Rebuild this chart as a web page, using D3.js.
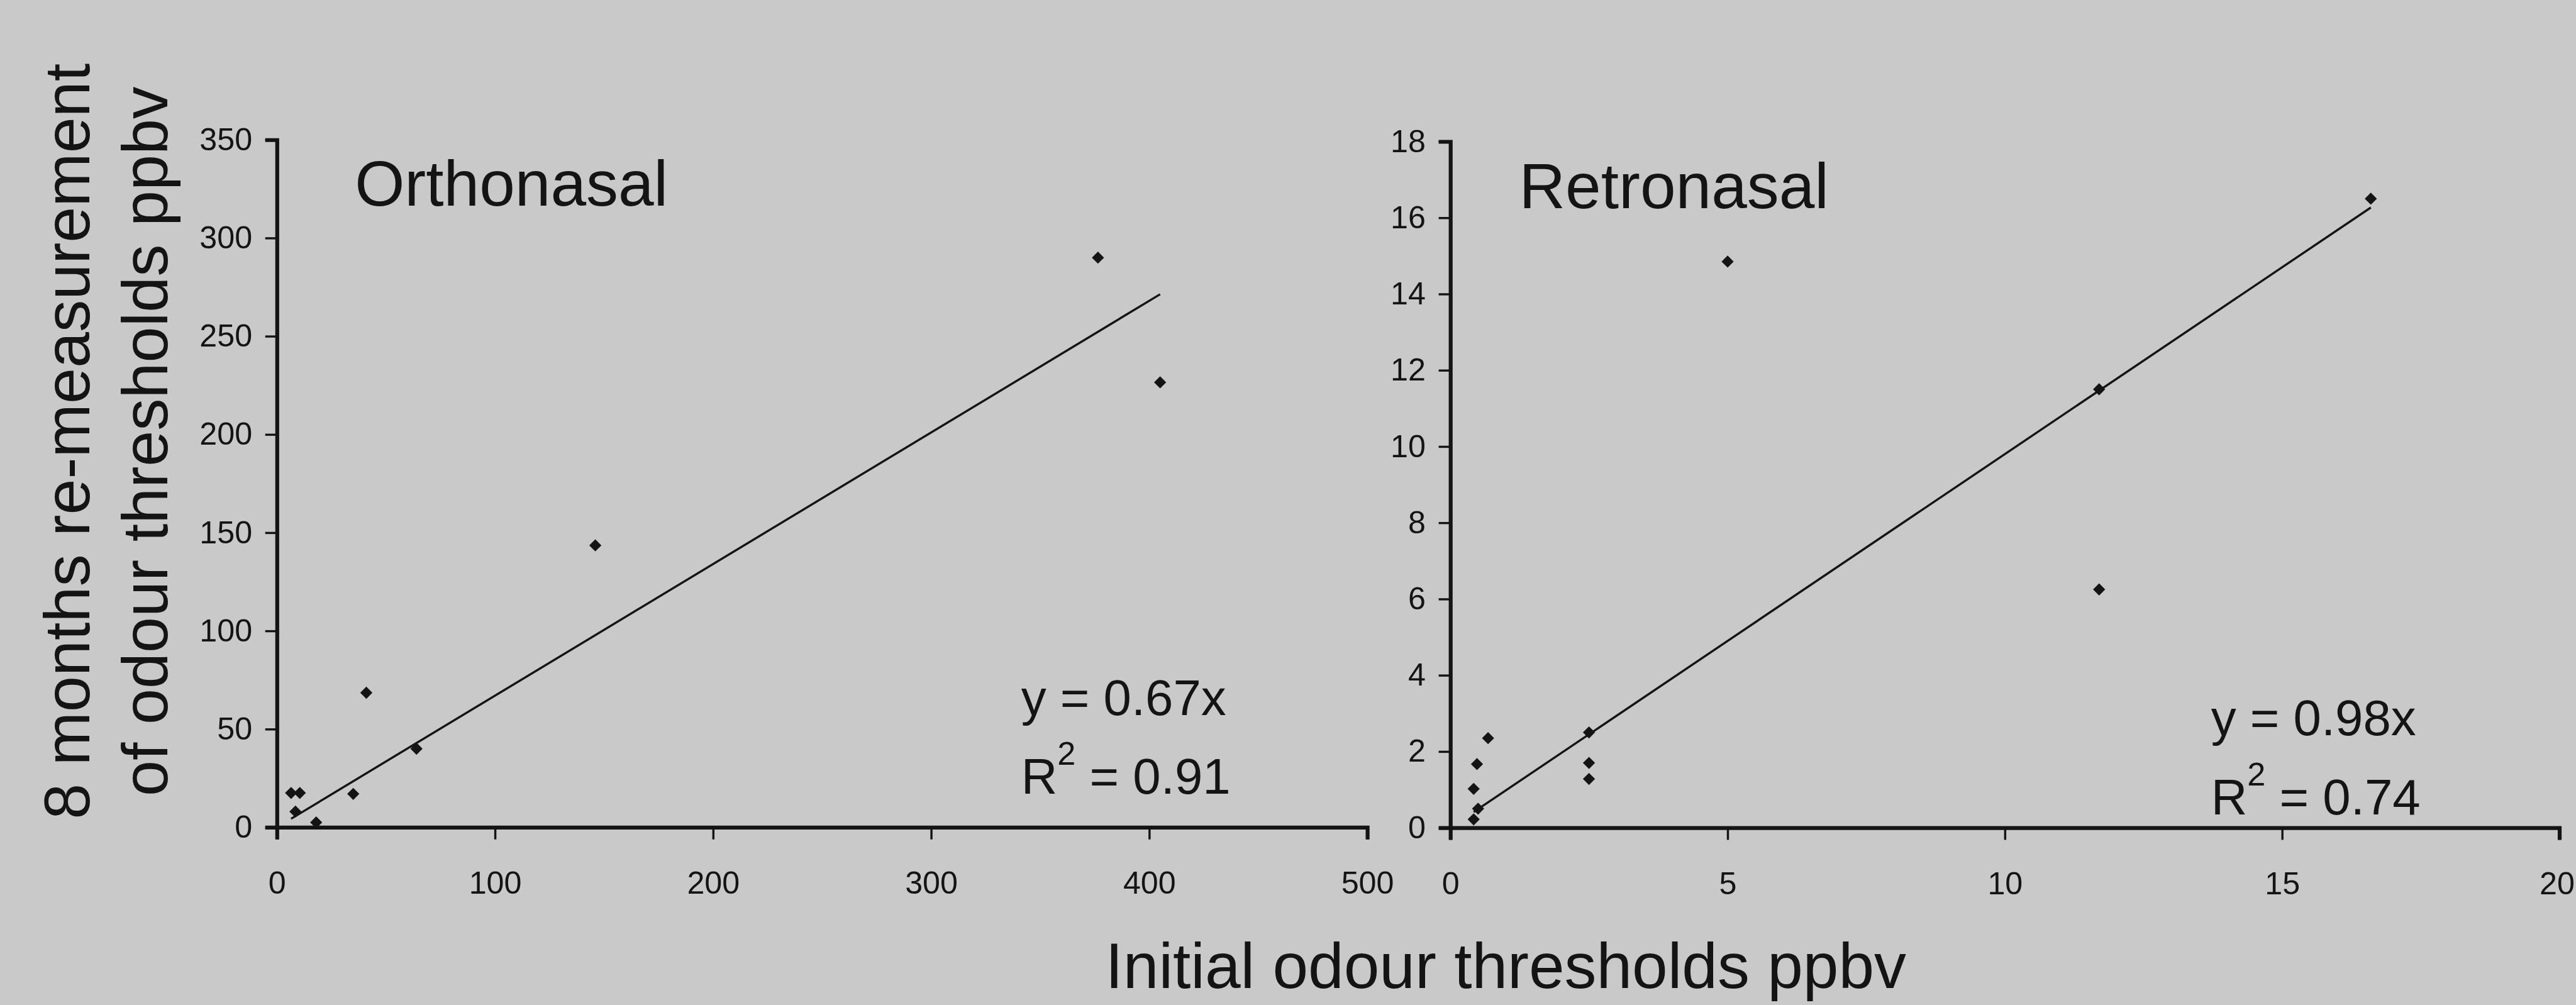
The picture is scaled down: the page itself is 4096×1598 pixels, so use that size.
<!DOCTYPE html>
<html>
<head>
<meta charset="utf-8">
<script src="https://cdn.jsdelivr.net/npm/d3@7"></script>
<style>
  html, body { margin: 0; padding: 0; background: #c9c9c9; overflow: hidden; }
  svg { display: block; }
</style>
</head>
<body>
<svg id="chart"></svg>
<script>

// values
var orthoX = [376.5, 405, 146, 41, 64, 35, 6.5, 10.5, 8.5, 18];
var orthoY = [290, 226.5, 143.5, 68.5, 40, 17, 17.5, 17.5, 8, 2.5];
var retroX = [16.6, 5.0, 11.7, 11.7, 2.5, 2.5, 2.5, 0.68, 0.48, 0.42, 0.5, 0.42];
var retroY = [16.5, 14.85, 11.5, 6.25, 2.5, 1.7, 1.28, 2.35, 1.67, 1.02, 0.5, 0.22];

var orthoTicksX = [0, 100, 200, 300, 400, 500];
var orthoTicksY = [0, 50, 100, 150, 200, 250, 300, 350];
var retroTicksX = [0, 5, 10, 15, 20];
var retroTicksY = [0, 2, 4, 6, 8, 10, 12, 14, 16, 18];

var titles = ["Orthonasal", "Retronasal"];
var slopes = ["0.67", "0.98"];
var rSquared = ["0.91", "0.74"];

var yLabelLines = ["8 months re-measurement", "of odour thresholds ppbv"];
var xLabel = "Initial odour thresholds ppbv";

// everything below is laid out in reference pixels and scaled by S
var S = 0.688;
var W = 4096, H = 1598;
var font = "'Liberation Sans', Arial, Helvetica, sans-serif";
var ink = "#141414";

var svg = d3.select("#chart")
  .attr("width", W)
  .attr("height", H)
  .style("font-family", font);

svg.append("rect")
  .attr("width", W)
  .attr("height", H)
  .attr("fill", "#c9c9c9");

function drawPanel(opt) {
  var x = d3.scaleLinear().domain([opt.xTicks[0], opt.xTicks[opt.xTicks.length - 1]])
    .range([opt.left * S, opt.right * S]);
  var y = d3.scaleLinear().domain([opt.yTicks[0], opt.yTicks[opt.yTicks.length - 1]])
    .range([opt.bottom * S, opt.top * S]);

  var g = svg.append("g");

  // y axis
  var gy = g.append("g")
    .attr("transform", "translate(" + x(0) + ",0)")
    .call(d3.axisLeft(y).tickValues(opt.yTicks).tickSize(27 * S).tickPadding(30 * S).tickFormat(d3.format("d")));

  // x axis
  var gx = g.append("g")
    .attr("transform", "translate(0," + y(0) + ")")
    .call(d3.axisBottom(x).tickValues(opt.xTicks).tickSize(28 * S).tickPadding(74 * S).tickFormat(d3.format("d")));

  [gx, gy].forEach(function(a) {
    a.attr("color", ink)
      .attr("font-family", font)
      .attr("font-size", 73 * S);
    a.select(".domain").attr("stroke-width", 9 * S);
    a.selectAll(".tick line").attr("stroke-width", 5 * S);
    a.selectAll(".tick text").attr("fill", ink);
  });

  // keep the last x tick label inside the window
  if (opt.nudgeLast) {
    gx.selectAll(".tick text").filter(function(d, i, n) { return i === n.length - 1; })
      .attr("dx", -opt.nudgeLast);
  }

  // data points (diamonds)
  g.append("g")
    .selectAll("path")
    .data(d3.zip(opt.xs, opt.ys))
    .join("path")
      .attr("d", d3.symbol(d3.symbolSquare, 186))
      .attr("fill", ink)
      .attr("transform", function(d) { return "translate(" + x(d[0]) + "," + y(d[1]) + ") rotate(45)"; });

  // trend line through the origin, drawn over the x-range of the data
  var ext = d3.extent(opt.xs);
  var k = +opt.slope;
  g.append("path")
    .datum(ext)
    .attr("fill", "none")
    .attr("stroke", ink)
    .attr("stroke-width", 5 * S)
    .attr("d", d3.line().x(function(d) { return x(d); }).y(function(d) { return y(k * d); }));

  // panel title
  g.append("text")
    .text(opt.title)
    .attr("x", opt.titleX * S)
    .attr("y", opt.titleY * S)
    .attr("font-size", 148 * S)
    .attr("fill", ink);

  // equation
  g.append("text")
    .text("y = " + opt.slope + "x")
    .attr("x", opt.eqX * S)
    .attr("y", opt.eqY * S)
    .attr("font-size", 116 * S)
    .attr("fill", ink);

  var r = g.append("text")
    .attr("x", opt.eqX * S)
    .attr("y", (opt.eqY + 183) * S)
    .attr("font-size", 116 * S)
    .attr("fill", ink);
  r.append("tspan").text("R");
  r.append("tspan").text("2").attr("font-size", 76 * S).attr("dy", -67 * S);
  r.append("tspan").text(" = " + opt.r2).attr("dy", 67 * S);
}

drawPanel({
  xs: orthoX, ys: orthoY,
  xTicks: orthoTicksX, yTicks: orthoTicksY,
  left: 640, right: 3160, bottom: 1912, top: 323,
  title: titles[0], titleX: 820, titleY: 476,
  slope: slopes[0], r2: rSquared[0], eqX: 2360, eqY: 1652
});

drawPanel({
  xs: retroX, ys: retroY,
  xTicks: retroTicksX, yTicks: retroTicksY,
  left: 3352, right: 5915, bottom: 1913, top: 327,
  title: titles[1], titleX: 3511, titleY: 481,
  slope: slopes[1], r2: rSquared[1], eqX: 5110, eqY: 1699,
  nudgeLast: 4
});

// shared y label, two lines, rotated
svg.append("g")
  .selectAll("text")
  .data(yLabelLines)
  .join("text")
    .text(function(d) { return d; })
    .attr("text-anchor", "middle")
    .attr("font-size", 149 * S)
    .attr("fill", ink)
    .attr("transform", function(d, i) {
      var bx = (i === 0 ? 207 : 387) * S;
      return "translate(" + bx + "," + 1020 * S + ") rotate(-90)";
    });

// shared x label
svg.append("text")
  .text(xLabel)
  .attr("text-anchor", "middle")
  .attr("x", 3480 * S)
  .attr("y", 2283 * S)
  .attr("font-size", 148 * S)
  .attr("fill", ink);

</script>
</body>
</html>
